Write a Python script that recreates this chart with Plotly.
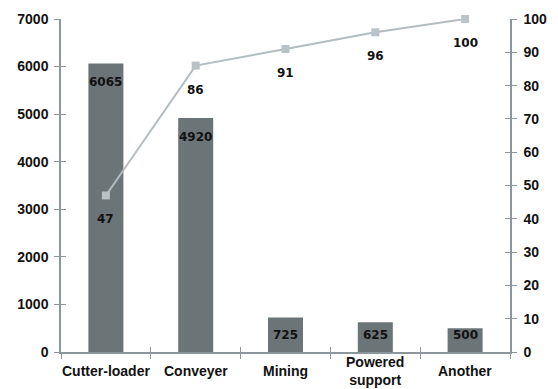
import plotly.graph_objects as go

categories = ["Cutter-loader", "Conveyer", "Mining", "Powered<br>support", "Another"]
failures = [6065, 4920, 725, 625, 500]
cumulative_pct = [47, 86, 91, 96, 100]

bar_color = "#6b7477"
line_color = "#b3bdc1"
axis_color = "#8c979b"
tick_font = dict(family="Liberation Sans, Arial", size=14, color="#111111", weight="bold")
value_font = dict(family="DejaVu Sans", size=12, color="#111111", weight="bold")

fig = go.Figure()

fig.add_trace(go.Bar(
    x=categories, y=failures, marker=dict(color=bar_color, line=dict(width=0)),
    width=0.39, yaxis="y", hoverinfo="skip",
))

fig.add_trace(go.Scatter(
    x=categories, y=cumulative_pct, mode="lines+markers", yaxis="y2",
    line=dict(color=line_color, width=2),
    marker=dict(symbol="square", size=8, color="#b9c2c6"),
    cliponaxis=False, hoverinfo="skip",
))

annotations = []
# bar values: tall bars labelled just under the top, short bars near the base
for c, v in zip(categories, failures):
    if v >= 1000:
        annotations.append(dict(x=c, y=v, xref="x", yref="y", text=str(v), showarrow=False,
                                yanchor="middle", yshift=-19, font=value_font))
    else:
        annotations.append(dict(x=c, y=0, xref="x", yref="y", text=str(v), showarrow=False,
                                yanchor="middle", yshift=17, font=value_font))
# cumulative percentages under each marker
for c, v in zip(categories, cumulative_pct):
    annotations.append(dict(x=c, y=v, xref="x", yref="y2", text=str(v), showarrow=False,
                            yanchor="middle", yshift=-24, font=value_font))
# category names below the axis
for c in categories:
    annotations.append(dict(x=c, y=0, xref="x", yref="paper", text=c, showarrow=False,
                            yanchor="middle", yshift=-19, font=tick_font))

fig.update_layout(
    width=558, height=389,
    margin=dict(l=61, r=48, t=19, b=37),
    paper_bgcolor="white", plot_bgcolor="white",
    showlegend=False,
    annotations=annotations,
    xaxis=dict(
        type="category", tickson="boundaries", ticks="outside", ticklen=5,
        tickcolor=axis_color, showline=True, linecolor=axis_color, linewidth=1.5,
        showgrid=False, showticklabels=False, zeroline=False, automargin=False,
        range=[-0.5, 4.5],
    ),
    xaxis2=dict(
        type="category", overlaying="x", tickson="boundaries", ticks="inside",
        ticklen=5, tickcolor=axis_color, showline=False, showgrid=False,
        showticklabels=False, zeroline=False, range=[-0.5, 4.5],
        categoryorder="array", categoryarray=categories,
    ),
    yaxis=dict(
        range=[0, 7000], dtick=1000, ticks="outside", ticklen=5, tickcolor=axis_color,
        showline=True, linecolor=axis_color, linewidth=1.5, showgrid=False,
        zeroline=False, tickfont=tick_font, automargin=False, ticklabelstandoff=3,
    ),
    yaxis2=dict(
        range=[0, 100], dtick=10, overlaying="y", side="right", ticks="outside",
        ticklen=5, tickcolor=axis_color, showline=True, linecolor=axis_color,
        linewidth=1.5, showgrid=False, zeroline=False, tickfont=tick_font,
        automargin=False, ticklabelstandoff=4,
    ),
    yaxis3=dict(
        range=[0, 7000], dtick=1000, overlaying="y", side="left", ticks="inside",
        ticklen=5, tickcolor=axis_color, showticklabels=False, showline=False,
        showgrid=False, zeroline=False,
    ),
    yaxis4=dict(
        range=[0, 100], dtick=10, overlaying="y", side="right", ticks="inside",
        ticklen=5, tickcolor=axis_color, showticklabels=False, showline=False,
        showgrid=False, zeroline=False,
    ),
)

# invisible traces so the inner tick overlays are drawn
fig.add_trace(go.Scatter(x=categories, y=[0] * len(categories), xaxis="x2", yaxis="y3",
                         mode="markers", marker=dict(opacity=0), hoverinfo="skip"))
fig.add_trace(go.Scatter(x=[categories[0]], y=[0], yaxis="y4", mode="markers",
                         marker=dict(opacity=0), hoverinfo="skip"))

fig.write_html("out.html")
